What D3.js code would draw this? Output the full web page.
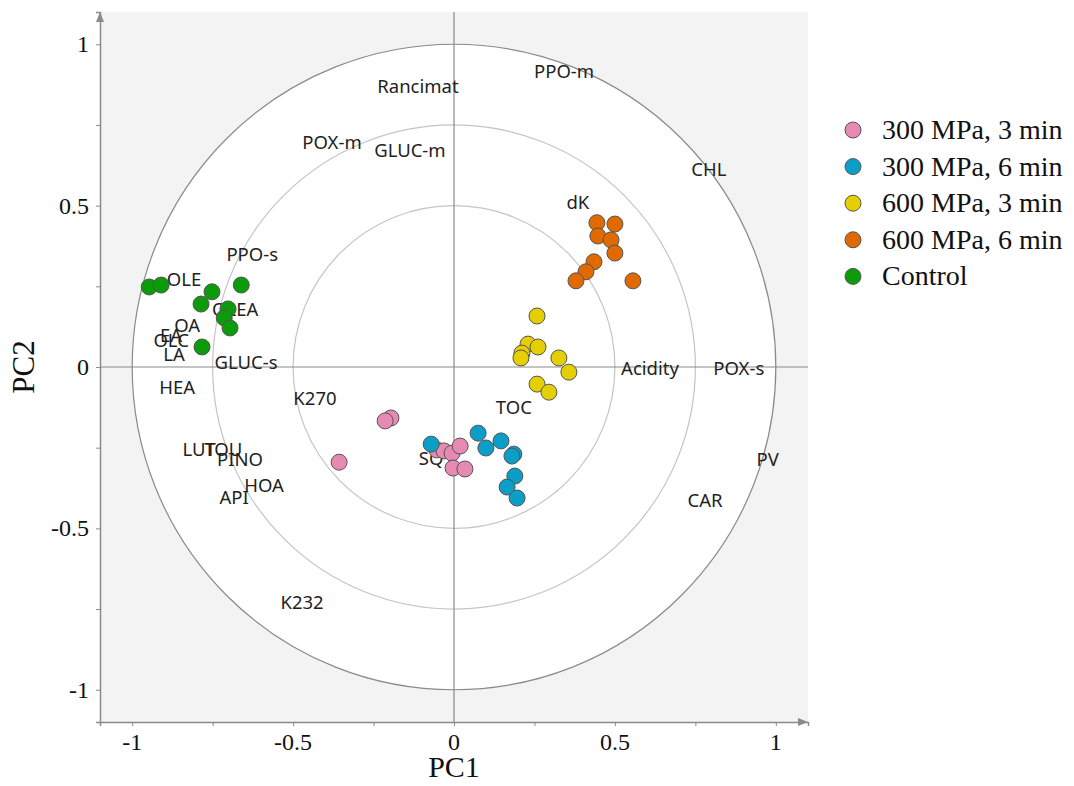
<!DOCTYPE html>
<html>
<head>
<meta charset="utf-8">
<script src="https://cdn.jsdelivr.net/npm/d3@7"></script>
<style>
  body { margin: 0; background: #fff; }
  svg text.var { font-family: "Noto Sans", "Open Sans", sans-serif; font-size: 18.5px; fill: #222; }
  svg text.serif { font-family: "Liberation Serif", "Times New Roman", serif; fill: #111; }
</style>
</head>
<body>
<svg id="chart" width="1074" height="786"></svg>
<script>
// score points per group (PC1, PC2)
var groups = ['300 MPa, 3 min', '300 MPa, 6 min', '600 MPa, 3 min', '600 MPa, 6 min', 'Control'];
var colors = ['#e68ab3', '#0b9fc8', '#e6cf00', '#e06a00', '#0b9b0b'];

var pc1_300_3 = [-0.196, -0.214, -0.357, -0.053, -0.031, -0.006, 0.019, -0.003, 0.034];
var pc2_300_3 = [-0.158, -0.167, -0.295, -0.257, -0.260, -0.267, -0.245, -0.313, -0.316];

var pc1_300_6 = [-0.071, 0.075, 0.099, 0.146, 0.186, 0.180, 0.189, 0.165, 0.196];
var pc2_300_6 = [-0.239, -0.205, -0.251, -0.229, -0.270, -0.276, -0.338, -0.372, -0.406];

var pc1_600_3 = [0.258, 0.230, 0.261, 0.211, 0.208, 0.326, 0.357, 0.258, 0.295];
var pc2_600_3 = [0.158, 0.071, 0.062, 0.043, 0.028, 0.028, -0.016, -0.053, -0.078];

var pc1_600_6 = [0.444, 0.500, 0.447, 0.488, 0.500, 0.435, 0.410, 0.379, 0.556];
var pc2_600_6 = [0.447, 0.443, 0.406, 0.394, 0.353, 0.326, 0.295, 0.267, 0.267];

var pc1_ctrl = [-0.947, -0.910, -0.752, -0.661, -0.786, -0.702, -0.714, -0.696, -0.783];
var pc2_ctrl = [0.248, 0.254, 0.233, 0.254, 0.195, 0.180, 0.152, 0.121, 0.062];

// variable loadings (labels only)
var varNames = ['Rancimat', 'PPO-m', 'POX-m', 'GLUC-m', 'CHL', 'dK', 'PPO-s', 'OLE', 'OLEA', 'OA',
  'EA', 'OLC', 'LA', 'HEA', 'GLUC-s', 'K270', 'LUT', 'TOU', 'PINO', 'HOA', 'API', 'K232',
  'SQ', 'TOC', 'Acidity', 'POX-s', 'PV', 'CAR'];
var varX = [-0.112, 0.342, -0.379, -0.137, 0.792, 0.385, -0.627, -0.839, -0.680, -0.829,
  -0.879, -0.879, -0.870, -0.860, -0.646, -0.432, -0.792, -0.717, -0.665, -0.590, -0.683, -0.472,
  -0.071, 0.186, 0.609, 0.885, 0.975, 0.780];
var varY = [0.871, 0.918, 0.698, 0.673, 0.614, 0.512, 0.353, 0.273, 0.180, 0.133,
  0.102, 0.084, 0.043, -0.059, 0.016, -0.096, -0.251, -0.251, -0.285, -0.363, -0.400, -0.726,
  -0.279, -0.121, -0.003, -0.003, -0.282, -0.412];

var radii = [1, 0.75, 0.5];
var ticks = [-1, -0.75, -0.5, -0.25, 0, 0.25, 0.5, 0.75, 1];
var tickLabels = [-1, -0.5, 0, 0.5, 1];

var svg = d3.select('#chart');

var x = d3.scaleLinear().domain([-1.1, 1.1]).range([100, 808]);
var y = d3.scaleLinear().domain([-1.1, 1.1]).range([722, 12]);

// plot background
svg.append('rect')
  .attr('x', x(-1.1)).attr('y', y(1.1))
  .attr('width', x(1.1) - x(-1.1)).attr('height', y(-1.1) - y(1.1))
  .style('fill', '#f3f3f3');

// circles
radii.forEach(function(r, i) {
  svg.append('ellipse')
    .attr('cx', x(0)).attr('cy', y(0))
    .attr('rx', x(r) - x(0)).attr('ry', y(0) - y(r))
    .style('fill', i == 0 ? '#fff' : 'none')
    .style('stroke', i == 0 ? '#8a8a8a' : '#c4c4c4')
    .style('stroke-width', 1.2);
});

// zero lines
svg.append('line')
  .attr('x1', x(-1.1)).attr('x2', x(1.1)).attr('y1', y(0)).attr('y2', y(0))
  .style('stroke', '#8a8a8a').style('stroke-width', 1.2);
svg.append('line')
  .attr('x1', x(0)).attr('x2', x(0)).attr('y1', y(-1.1)).attr('y2', y(1.1))
  .style('stroke', '#8a8a8a').style('stroke-width', 1.2);

// axes
var xAxis = d3.axisBottom(x).tickValues(ticks).tickSize(4).tickFormat('');
var yAxis = d3.axisLeft(y).tickValues(ticks).tickSize(4).tickFormat('');

var gx = svg.append('g').attr('transform', 'translate(0,' + y(-1.1) + ')').call(xAxis);
var gy = svg.append('g').attr('transform', 'translate(' + x(-1.1) + ',0)').call(yAxis);
[gx, gy].forEach(function(g) {
  g.select('.domain').style('stroke', '#8a8a8a').style('stroke-width', 1.5);
  g.selectAll('.tick line').style('stroke', '#8a8a8a');
});

// arrow heads
svg.append('path')
  .attr('d', 'M' + (x(1.1) - 10) + ',' + (y(-1.1) - 4) + 'L' + x(1.1) + ',' + y(-1.1) + 'L' + (x(1.1) - 10) + ',' + (y(-1.1) + 4) + 'Z')
  .style('fill', '#8a8a8a');
svg.append('path')
  .attr('d', 'M' + (x(-1.1) - 4) + ',' + (y(1.1) + 10) + 'L' + x(-1.1) + ',' + y(1.1) + 'L' + (x(-1.1) + 4) + ',' + (y(1.1) + 10) + 'Z')
  .style('fill', '#8a8a8a');

// tick labels
svg.selectAll('.xlab').data(tickLabels).enter().append('text')
  .attr('class', 'serif')
  .attr('x', d => x(d)).attr('y', 750)
  .attr('text-anchor', 'middle')
  .style('font-size', '24px')
  .text(d => d);
svg.selectAll('.ylab').data(tickLabels).enter().append('text')
  .attr('class', 'serif')
  .attr('x', 89).attr('y', d => y(d) + 8)
  .attr('text-anchor', 'end')
  .style('font-size', '24px')
  .text(d => d);

// axis titles
svg.append('text').attr('class', 'serif')
  .attr('x', x(0)).attr('y', 777)
  .attr('text-anchor', 'middle').style('font-size', '30px')
  .text('PC1');
svg.append('text').attr('class', 'serif')
  .attr('transform', 'translate(34,' + y(0) + ') rotate(-90)')
  .attr('text-anchor', 'middle').style('font-size', '31px')
  .text('PC2');

// variable labels
svg.selectAll('.var').data(varNames).enter().append('text')
  .attr('class', 'var')
  .attr('x', (d, i) => x(varX[i])).attr('y', (d, i) => y(varY[i]))
  .attr('text-anchor', 'middle')
  .attr('dominant-baseline', 'central')
  .text(d => d);

// points
var series = [
  [pc1_300_3, pc2_300_3],
  [pc1_300_6, pc2_300_6],
  [pc1_600_3, pc2_600_3],
  [pc1_600_6, pc2_600_6],
  [pc1_ctrl, pc2_ctrl]
];
series.forEach(function(s, k) {
  svg.append('g').selectAll('circle').data(s[0]).enter().append('circle')
    .attr('cx', d => x(d))
    .attr('cy', (d, i) => y(s[1][i]))
    .attr('r', 8)
    .style('fill', colors[k])
    .style('stroke', '#555')
    .style('stroke-width', 1);
});

// legend
var legend = svg.append('g').attr('transform', 'translate(853,130)');
groups.forEach(function(g, i) {
  legend.append('circle')
    .attr('cx', 0).attr('cy', i * 36.6)
    .attr('r', 8)
    .style('fill', colors[i]).style('stroke', '#555').style('stroke-width', 1);
  legend.append('text').attr('class', 'serif')
    .attr('x', 29).attr('y', i * 36.6 + 9)
    .style('font-size', '28px')
    .text(g);
});
</script>
</body>
</html>
